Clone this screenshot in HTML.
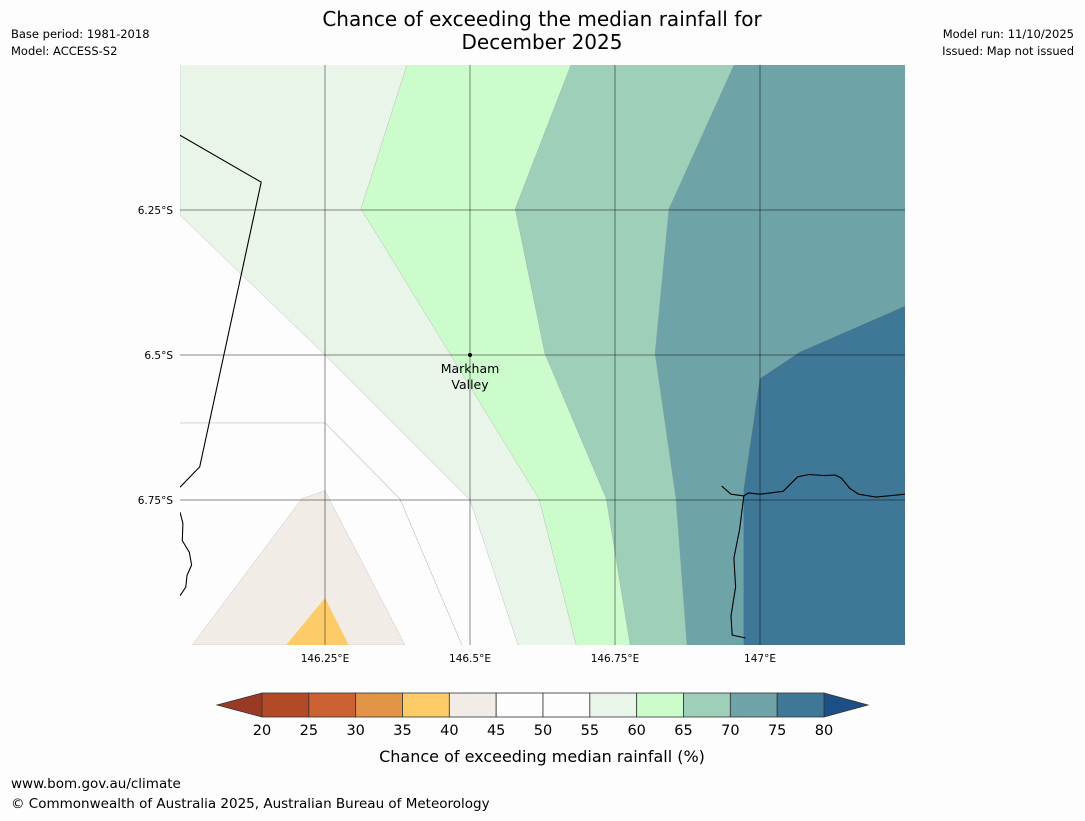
<!DOCTYPE html>
<html><head><meta charset="utf-8"><style>
body{margin:0;background:#fdfdfd;width:1085px;height:816px;overflow:hidden;font-family:"Liberation Sans","DejaVu Sans",sans-serif}
svg text{font-family:"DejaVu Sans","Liberation Sans",sans-serif}
</style></head><body>
<svg width="1085" height="816" viewBox="0 0 1085 816">
<rect width="1085" height="816" fill="#fdfdfd"/>
<text x="542" y="26" font-size="20" text-anchor="middle">Chance of exceeding the median rainfall for</text>
<text x="542" y="49" font-size="20" text-anchor="middle">December 2025</text>
<text x="11" y="38" font-size="11.5">Base period: 1981-2018</text>
<text x="11" y="55" font-size="11.5">Model: ACCESS-S2</text>
<text x="1074" y="38" font-size="11.5" text-anchor="end">Model run: 11/10/2025</text>
<text x="1074" y="55" font-size="11.5" text-anchor="end">Issued: Map not issued</text>
<defs><clipPath id="mc"><rect x="180" y="65" width="725" height="580"/></clipPath></defs>
<g id="map" clip-path="url(#mc)"></g>
<g id="grid"></g>
<g id="cbar"></g>
<text x="542" y="762" font-size="16" text-anchor="middle">Chance of exceeding median rainfall (%)</text>
<text x="11" y="788" font-size="13.5">www.bom.gov.au/climate</text>
<text x="11" y="808" font-size="13.5">© Commonwealth of Australia 2025, Australian Bureau of Meteorology</text>
</svg>
<script>
const NS="http://www.w3.org/2000/svg";
const lonMin=146.0, lonMax=147.25, latTop=-6.0, latBot=-7.0;
const X0=180,X1=905,Y0=65,Y1=645;
const px=lon=>X0+(lon-lonMin)/(lonMax-lonMin)*(X1-X0);
const py=lat=>Y0+(latTop-lat)/(latTop-latBot)*(Y1-Y0);
const levels=[20,25,30,35,40,45,50,55,60,65,70,75,80];
const binColors=["#b34a27","#cc6233","#e29447","#fdcb67","#f1ece5","#fdfdfd","#fdfdfd","#eaf5ea","#ccfccc","#9ed0b9","#6ea3a7","#3f7797"];
const lowColor="#9a3a24", highColor="#1c4f86";
const lonTicks=[146.25,146.5,146.75,147.0];
const lonLabels=["146.25°E","146.5°E","146.75°E","147°E"];
const latTicks=[-6.25,-6.5,-6.75];
const latLabels=["6.25°S","6.5°S","6.75°S"];
const b55=[[146.0,-6.0],[146.0,-6.259],[146.25,-6.5],[146.5,-6.75],[146.583,-7.0]];
const b60=[[146.391,-6.0],[146.312,-6.248],[146.619,-6.748],[146.683,-7.0]];
const b65=[[146.674,-6.0],[146.578,-6.248],[146.629,-6.497],[146.735,-6.748],[146.776,-7.0]];
const b70=[[146.955,-6.0],[146.843,-6.248],[146.819,-6.497],[146.855,-6.748],[146.874,-7.0]];
const r75=[[147.25,-6.416],[147.069,-6.495],[147.0,-6.541],[146.972,-6.733],[146.972,-7.0],[147.25,-7.0]];
const r40=[[146.021,-7.0],[146.21,-6.748],[146.25,-6.734],[146.388,-7.0]];
const r35=[[146.183,-7.0],[146.25,-6.919],[146.291,-7.0]];
const line50=[[146.0,-6.617],[146.25,-6.617],[146.379,-6.748],[146.486,-7.0]];
const border=[[146.0,-6.121],[146.14,-6.202],[146.034,-6.693],[146.0,-6.728]];
const coastW=[[146.0,-6.771],[146.005,-6.79],[146.004,-6.82],[146.016,-6.84],[146.02,-6.862],[146.012,-6.88],[146.01,-6.9],[146.0,-6.915]];
const coastE=[[146.934,-6.726],[146.95,-6.74],[146.972,-6.743],[146.98,-6.738],[147.0,-6.74],[147.04,-6.735],[147.065,-6.71],[147.085,-6.706],[147.11,-6.708],[147.13,-6.707],[147.14,-6.712],[147.155,-6.73],[147.17,-6.74],[147.2,-6.745],[147.25,-6.74]];
const coastE2=[[146.972,-6.743],[146.965,-6.8],[146.955,-6.85],[146.958,-6.9],[146.95,-6.95],[146.952,-6.983],[146.975,-6.988]];
const mk=(t,a,p)=>{const e=document.createElementNS(NS,t);for(const k in a)e.setAttribute(k,a[k]);(p||document.getElementById('map')).appendChild(e);return e;};
const pts=a=>a.map(p=>px(p[0]).toFixed(1)+","+py(p[1]).toFixed(1)).join(" ");
mk('rect',{x:X0,y:Y0,width:X1-X0,height:Y1-Y0,fill:"#fdfdfd"});
function rightFill(b,col,name){
  const a=b.concat([[lonMax+0.1,latBot-0.1],[lonMax+0.1,latTop+0.1],[b[0][0],latTop+0.1]]);
  const e=mk('polygon',{points:pts(a),fill:col,stroke:"#999",'stroke-width':0.3});
  
  
}
rightFill(b55,binColors[7],'region-55-60');
rightFill(b60,binColors[8],'region-60-65');
rightFill(b65,binColors[9],'region-65-70');
rightFill(b70,binColors[10],'region-70-75');
let e;
e=mk('polygon',{points:pts(r75),fill:binColors[11],stroke:"#666",'stroke-width':0.3});


e=mk('polygon',{points:pts(r40),fill:binColors[4],stroke:"#aaa",'stroke-width':0.3});


e=mk('polygon',{points:pts(r35),fill:binColors[3]});


e=mk('polyline',{points:pts(line50),fill:"none",stroke:"#bbb",'stroke-width':0.6});


[[border,'province-border'],[coastW,'coastline-west'],[coastE,'coastline-east'],[coastE2,'coastline-east-south']].forEach(([a,n])=>{
  const l=mk('polyline',{points:pts(a),fill:"none",stroke:"#000",'stroke-width':1.1});
  
  
});
const grid=document.getElementById('grid');
lonTicks.forEach((v,i)=>{
  const l=mk('line',{x1:px(v),x2:px(v),y1:Y0,y2:Y1,stroke:"#000",'stroke-opacity':0.45,'stroke-width':1},grid);
  
  
  const t=mk('text',{x:px(v),y:Y1+17,'font-size':10.5,'text-anchor':'middle'},grid);t.textContent=lonLabels[i];
  
  
});
latTicks.forEach((v,i)=>{
  const l=mk('line',{x1:X0,x2:X1,y1:py(v),y2:py(v),stroke:"#000",'stroke-opacity':0.45,'stroke-width':1},grid);
  
  
  const t=mk('text',{x:X0-7,y:py(v)+4,'font-size':10.5,'text-anchor':'end'},grid);t.textContent=latLabels[i];
  
  
});
const tx=px(146.5),ty=py(-6.5);
e=mk('circle',{cx:tx,cy:ty,r:2,fill:"#000"},grid);


e=mk('text',{x:tx,y:ty+18,'font-size':12.5,'text-anchor':'middle'},grid);e.textContent="Markham";


e=mk('text',{x:tx,y:ty+34,'font-size':12.5,'text-anchor':'middle'},grid);e.textContent="Valley";


const cb=document.getElementById('cbar');
const CX0=262,CX1=824,CY0=693,CY1=717;
const cx=v=>CX0+(v-levels[0])/(levels[levels.length-1]-levels[0])*(CX1-CX0);
e=mk('polygon',{points:`${CX0},${CY0} ${CX0},${CY1} 217,${(CY0+CY1)/2}`,fill:lowColor,stroke:"#333",'stroke-width':0.8},cb);


e=mk('polygon',{points:`${CX1},${CY0} ${CX1},${CY1} 868,${(CY0+CY1)/2}`,fill:highColor,stroke:"#333",'stroke-width':0.8},cb);


binColors.forEach((c,i)=>{
  const r=mk('rect',{x:cx(levels[i]),y:CY0,width:cx(levels[i+1])-cx(levels[i]),height:CY1-CY0,fill:c,stroke:"#333",'stroke-width':0.8},cb);
  
  
});
levels.forEach(v=>{
  const t=mk('text',{x:cx(v),y:735,'font-size':14.5,'text-anchor':'middle'},cb);t.textContent=v;
  
  
});
</script>
</body></html>
